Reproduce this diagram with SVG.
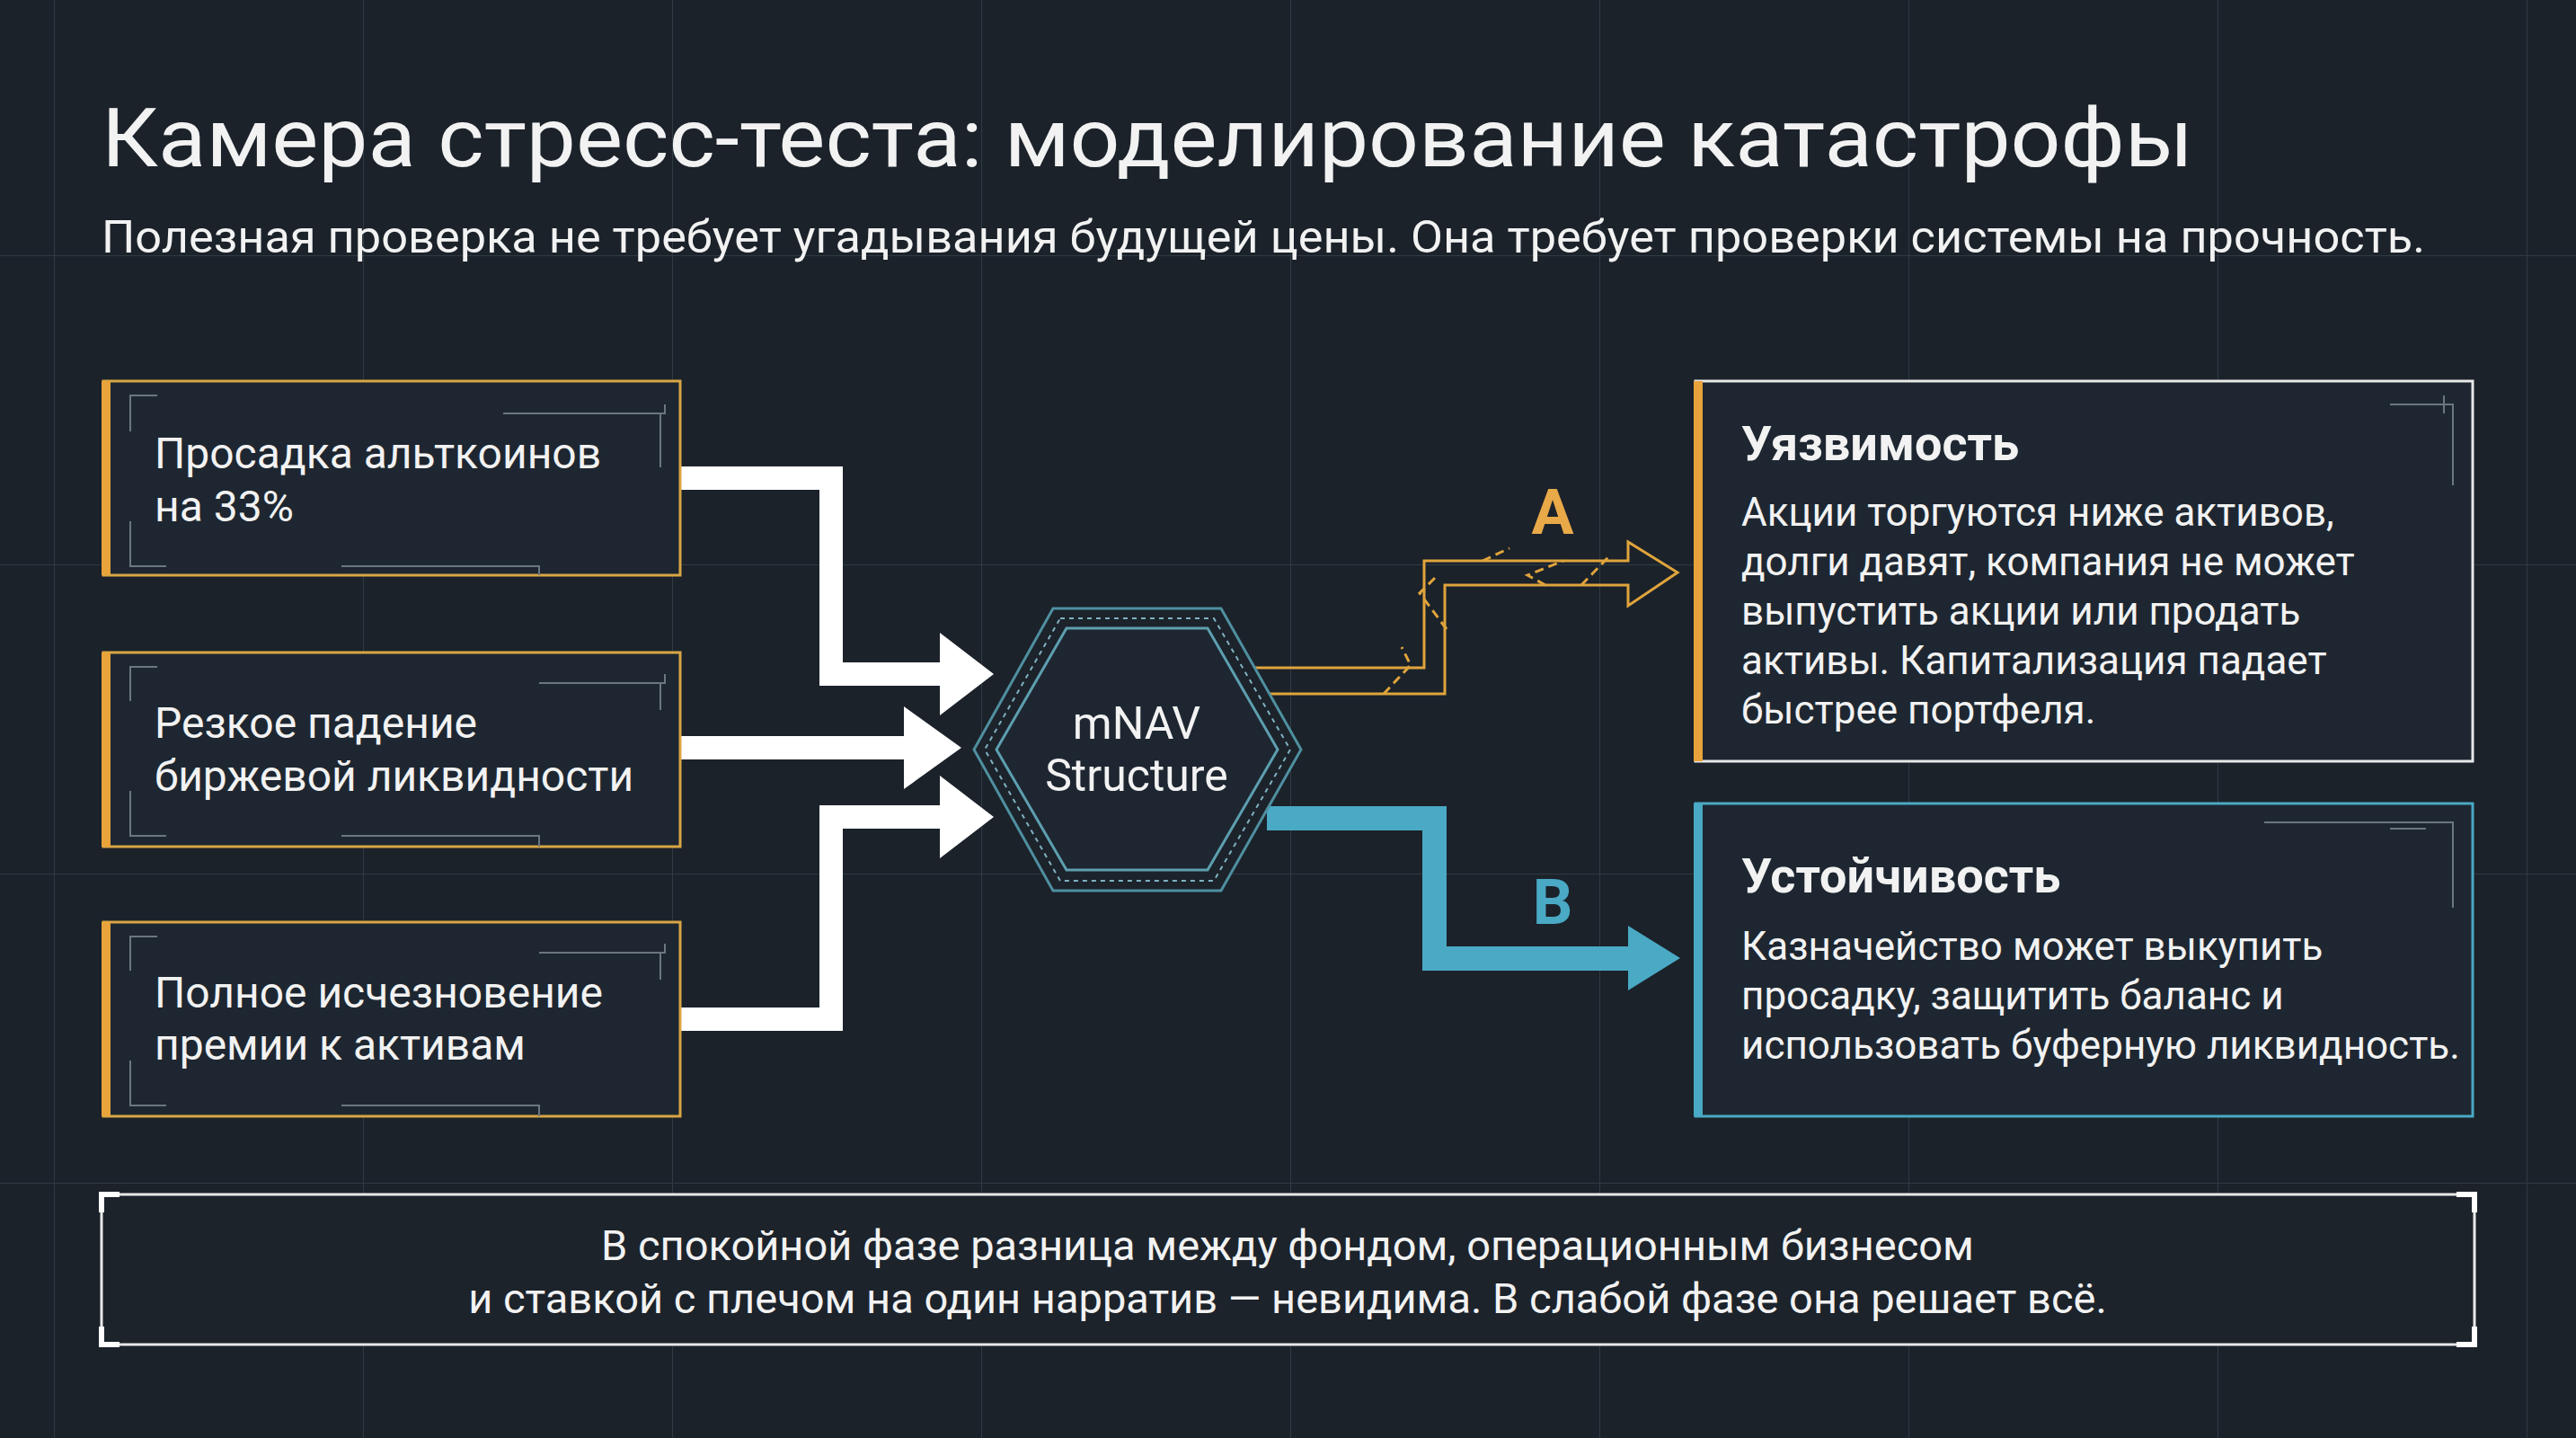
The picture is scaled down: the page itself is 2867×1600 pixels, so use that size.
<svg xmlns="http://www.w3.org/2000/svg" width="2867" height="1600" viewBox="0 0 2867 1600">
<defs>
<pattern id="grid" x="60" y="284" width="344" height="344" patternUnits="userSpaceOnUse">
<path d="M0 0H344M0 0V344" stroke="#2f3a44" stroke-width="2" fill="none"/>
</pattern>
<style>
.t{font-family:Roboto,"Liberation Sans",sans-serif;fill:#f2f2f2}
.lb{fill:#1e2731;stroke:#d9a645;stroke-width:3}
.deco{stroke:#6b7680;stroke-width:2;fill:none}
.wt{fill:#ffffff}
</style>
</defs>
<rect width="2867" height="1600" fill="#1b222a"/>
<rect width="2867" height="1600" fill="url(#grid)"/>
<text class="t" x="113" y="185" font-size="90" textLength="2328" lengthAdjust="spacingAndGlyphs">Камера стресс-теста: моделирование катастрофы</text>
<text class="t" x="113" y="281" font-size="50" fill="#e6e6e6" textLength="2586" lengthAdjust="spacingAndGlyphs">Полезная проверка не требует угадывания будущей цены. Она требует проверки системы на прочность.</text>

<g id="connectors">
<path class="wt" d="M757 519H938V737H1046V704L1106 750L1046 796V763H912V545H757Z"/>
<path class="wt" d="M757 819H1006V786L1070 832L1006 878V845H757Z"/>
<path class="wt" d="M757 1121H912V896H1046V863L1106 909L1046 955V922H938V1147H757Z"/>
<path fill="#4aa9c4" d="M1410 897H1610V1053H1812V1030L1870 1066L1812 1102V1080H1583V924H1410Z"/>
<g fill="none" stroke="#e0a43c" stroke-width="3">
<path d="M1396 743H1585V624H1812V603L1867 637L1812 674V651H1608V772H1396"/>
<path d="M1540 772L1570 740L1560 720M1610 700L1580 660L1600 640M1650 624L1680 610M1720 651L1700 640L1740 624M1760 651L1790 620" stroke-dasharray="10 6"/>
</g>
<text x="1728" y="594" font-family="Roboto,'Liberation Sans',sans-serif" font-weight="bold" font-size="70" fill="#e8a948" text-anchor="middle">A</text>
<text x="1728" y="1028" font-family="Roboto,'Liberation Sans',sans-serif" font-weight="bold" font-size="70" fill="#4aa9c4" text-anchor="middle">B</text>
</g>

<g id="n1">
<rect class="lb" x="115" y="424" width="642" height="216"/>
<rect x="113" y="424" width="10" height="216" fill="#e8a33a"/>
<path class="deco" d="M145 480V440H175M560 460H740V450M735 460V520M145 580V630H185M380 630H600V640"/>
<text class="t" font-size="48"><tspan x="172" y="521">Просадка альткоинов</tspan><tspan x="172" y="580">на 33%</tspan></text>
</g>
<g id="n2">
<rect class="lb" x="115" y="726" width="642" height="216"/>
<rect x="113" y="726" width="10" height="216" fill="#e8a33a"/>
<path class="deco" d="M145 780V742H175M600 760H740V750M145 880V930H185M380 930H600V942M735 760V790"/>
<text class="t" font-size="48"><tspan x="172" y="821">Резкое падение</tspan><tspan x="172" y="880">биржевой ликвидности</tspan></text>
</g>
<g id="n3">
<rect class="lb" x="115" y="1026" width="642" height="216"/>
<rect x="113" y="1026" width="10" height="216" fill="#e8a33a"/>
<path class="deco" d="M145 1080V1042H175M600 1060H740V1050M145 1180V1230H185M380 1230H600V1242M735 1060V1090"/>
<text class="t" font-size="48"><tspan x="172" y="1121">Полное исчезновение</tspan><tspan x="172" y="1179">премии к активам</tspan></text>
</g>

<g id="hex">
<polygon points="1172,677 1359,677 1448,834 1359,991 1172,991 1084,834" fill="#1c232b" stroke="#4f8fa0" stroke-width="3"/>
<polygon points="1180,688 1351,688 1436,834 1351,980 1180,980 1096,834" fill="none" stroke="#7fb2c0" stroke-width="2" stroke-dasharray="5 5"/>
<polygon points="1187,699 1344,699 1422,834 1344,968 1187,968 1109,834" fill="#1e2731" stroke="#5d9fb0" stroke-width="3"/>
<text class="t" font-size="50" text-anchor="middle"><tspan x="1265" y="822">mNAV</tspan><tspan x="1265" y="880">Structure</tspan></text>
</g>

<g id="a">
<rect x="1887" y="424" width="865" height="423" fill="#1e2731" stroke="#e8e8e8" stroke-width="3"/>
<rect x="1885" y="424" width="10" height="423" fill="#e8a33a"/>
<path class="deco" d="M2660 450H2730V540M2720 440V460"/>
<text class="t" font-size="54" font-weight="bold" x="1938" y="512">Уязвимость</text>
<text class="t" font-size="44"><tspan x="1938" y="585">Акции торгуются ниже активов,</tspan><tspan x="1938" y="640">долги давят, компания не может</tspan><tspan x="1938" y="695">выпустить акции или продать</tspan><tspan x="1938" y="750">активы. Капитализация падает</tspan><tspan x="1938" y="805">быстрее портфеля.</tspan></text>
</g>
<g id="b">
<rect x="1887" y="894" width="865" height="348" fill="#1e2731" stroke="#4aa9c4" stroke-width="3"/>
<rect x="1885" y="894" width="10" height="348" fill="#4aa9c4"/>
<path class="deco" d="M2520 915H2730V1010M2660 922H2700"/>
<text class="t" font-size="54" font-weight="bold" x="1938" y="993">Устойчивость</text>
<text class="t" font-size="44"><tspan x="1938" y="1068">Казначейство может выкупить</tspan><tspan x="1938" y="1123">просадку, защитить баланс и</tspan><tspan x="1938" y="1178">использовать буферную ликвидность.</tspan></text>
</g>
<g id="bottom">
<rect x="113" y="1329" width="2641" height="167" fill="#1c232b" stroke="#e8e8e8" stroke-width="3"/>
<path d="M113 1349V1329H133M2734 1329H2754V1349M113 1476V1496H133M2734 1496H2754V1476" stroke="#ffffff" stroke-width="6" fill="none"/>
<text class="t" font-size="47" text-anchor="middle"><tspan x="1433" y="1402">В спокойной фазе разница между фондом, операционным бизнесом</tspan><tspan x="1433" y="1461">и ставкой с плечом на один нарратив — невидима. В слабой фазе она решает всё.</tspan></text>
</g>
</svg>
